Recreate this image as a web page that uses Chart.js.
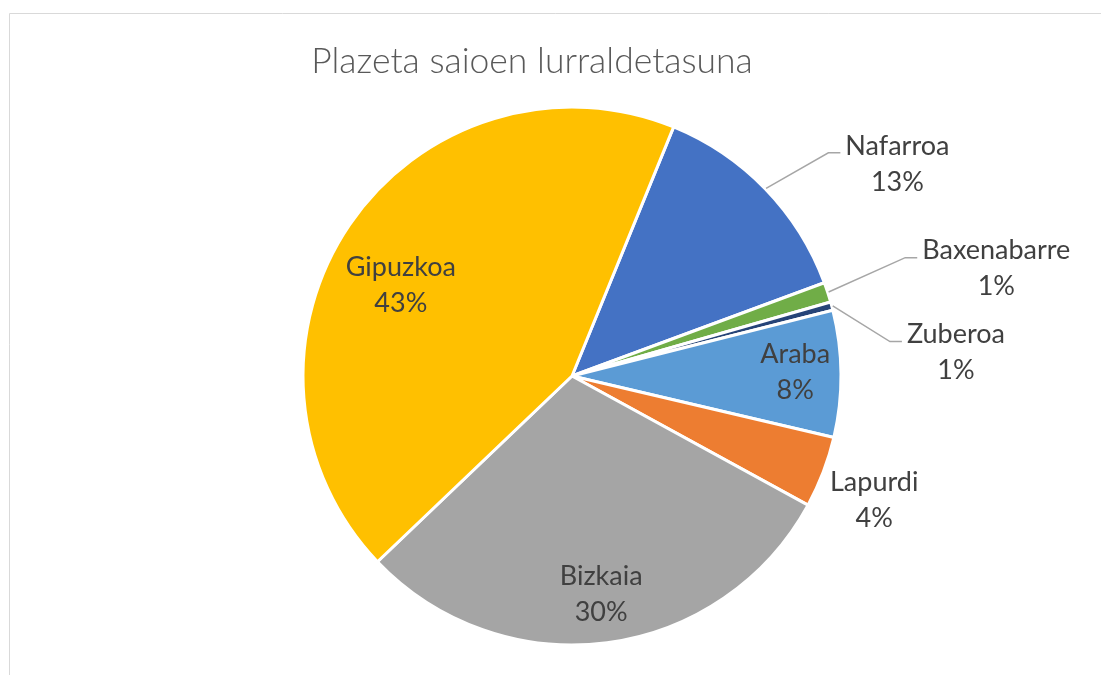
<!DOCTYPE html>
<html>
<head>
<meta charset="utf-8">
<title>Plazeta saioen lurraldetasuna</title>
<script src="https://cdn.jsdelivr.net/npm/chart.js@4"></script>
<style>
  html, body { margin: 0; padding: 0; background: #fff; }
  #wrap { width: 1101px; height: 675px; position: relative; }
</style>
</head>
<body>
<div id="wrap"><canvas id="pie"></canvas></div>
<script>
// data, clockwise from the Nafarroa slice
const categories = ['Nafarroa', 'Baxenabarre', 'Zuberoa', 'Araba', 'Lapurdi', 'Bizkaia', 'Gipuzkoa'];
const shares = [13.2, 1.2, 0.5, 7.6, 4.3, 29.9, 43.3];
const sliceColors = ['#4472C4', '#70AD47', '#264478', '#5B9BD5', '#ED7D31', '#A5A5A5', '#FFC000'];
const chartTitle = 'Plazeta saioen lurraldetasuna';

// where each data label sits: angle (deg, clockwise from 12 o'clock), distance in radii
const labelPlace = [
    { ang: 56.9, rr: 1.444, leader: true },
    { ang: 75.8, rr: 1.627, leader: true },
    { ang: 86.5, rr: 1.43, leader: true },
    { ang: 89.0, rr: 0.83, leader: false },
    { ang: 112.4, rr: 1.215, leader: false },
    { ang: 172.4, rr: 0.82, leader: false },
    { ang: 297.9, rr: 0.72, leader: false },
];

const labelFont = '27px Lato';
const lineGap = 36;

const excelLook = {
    id: 'excelLook',
    beforeDraw(chart) {
        const ctx = chart.ctx;
        ctx.save();
        ctx.strokeStyle = '#D9D9D9';
        ctx.lineWidth = 1;
        ctx.beginPath();
        ctx.moveTo(9.5, chart.height);
        ctx.lineTo(9.5, 13.5);
        ctx.lineTo(chart.width, 13.5);
        ctx.stroke();

        ctx.fillStyle = '#595959';
        ctx.font = '300 35.5px Lato';
        ctx.textAlign = 'center';
        ctx.textBaseline = 'middle';
        ctx.fillText(chartTitle, 532, 62);
        ctx.restore();
    },
    afterDatasetsDraw(chart) {
        const ctx = chart.ctx;
        const meta = chart.getDatasetMeta(0);
        const total = shares.reduce((a, b) => a + b, 0);
        ctx.save();
        ctx.font = labelFont;
        ctx.textAlign = 'center';
        ctx.textBaseline = 'middle';
        meta.data.forEach((arc, i) => {
            const p = arc.getProps(['x', 'y', 'outerRadius', 'startAngle', 'endAngle'], true);
            const place = labelPlace[i];
            const a = (place.ang - 90) * Math.PI / 180;
            const lx = p.x + Math.cos(a) * place.rr * p.outerRadius;
            const ly = p.y + Math.sin(a) * place.rr * p.outerRadius;
            const name = categories[i];
            const pct = Math.round(shares[i] / total * 100) + '%';
            const topY = ly - lineGap / 2;

            if (place.leader) {
                const mid = (p.startAngle + p.endAngle) / 2;
                const sx = p.x + Math.cos(mid) * (p.outerRadius + 1);
                const sy = p.y + Math.sin(mid) * (p.outerRadius + 1);
                const left = lx - ctx.measureText(name).width / 2;
                const ex = left - 5, ey = topY + 7;
                ctx.strokeStyle = '#A6A6A6';
                ctx.lineWidth = 1.5;
                ctx.beginPath();
                ctx.moveTo(sx, sy);
                ctx.lineTo(ex - 12, ey);
                ctx.lineTo(ex, ey);
                ctx.stroke();
            }

            ctx.fillStyle = '#404040';
            ctx.fillText(name, lx, topY);
            ctx.fillText(pct, lx, topY + lineGap);
        });
        ctx.restore();
    }
};

new Chart(document.getElementById('pie'), {
    type: 'pie',
    data: {
        labels: categories,
        datasets: [{
            data: shares,
            backgroundColor: sliceColors,
            borderColor: '#FFFFFF',
            borderWidth: 3,
            hoverOffset: 0,
        }],
    },
    options: {
        responsive: true,
        maintainAspectRatio: false,
        animation: false,
        rotation: 22.2,
        layout: { padding: { top: 105.5, bottom: 28.5, left: 301.5, right: 258.5 } },
        plugins: {
            legend: { display: false },
            title: { display: false },
            tooltip: { enabled: false },
        },
    },
    plugins: [excelLook],
});
</script>
</body>
</html>
